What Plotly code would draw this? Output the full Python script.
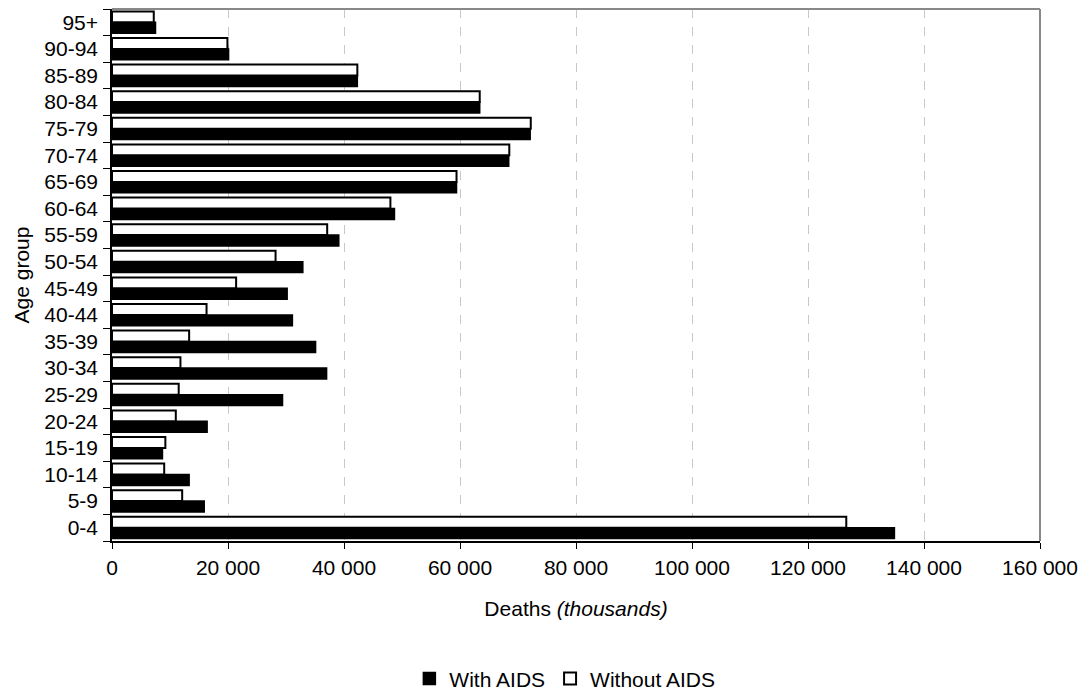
import plotly.graph_objects as go

age_groups = ["0-4", "5-9", "10-14", "15-19", "20-24", "25-29", "30-34", "35-39",
              "40-44", "45-49", "50-54", "55-59", "60-64", "65-69", "70-74",
              "75-79", "80-84", "85-89", "90-94", "95+"]
with_aids = [134900, 15900, 13300, 8700, 16400, 29400, 37000, 35100,
             31100, 30200, 32900, 39100, 48700, 59400, 68400,
             72100, 63400, 42300, 20100, 7500]
without_aids = [126600, 12100, 9000, 9200, 11000, 11500, 11800, 13300,
                16300, 21400, 28200, 37100, 48000, 59400, 68500,
                72200, 63400, 42300, 19900, 7200]
tick_vals = [0, 20000, 40000, 60000, 80000, 100000, 120000, 140000, 160000]
tick_text = ["0", "20 000", "40 000", "60 000", "80 000", "100 000",
             "120 000", "140 000", "160 000"]

font_family = "Liberation Sans, Arial, sans-serif"
fs = 21

fig = go.Figure()
fig.add_trace(go.Bar(
    y=age_groups, x=with_aids, orientation="h", name="With AIDS",
    marker=dict(color="black", line=dict(color="black", width=1.5)),
))
fig.add_trace(go.Bar(
    y=age_groups, x=without_aids, orientation="h", name="Without AIDS",
    marker=dict(color="white", line=dict(color="black", width=2)),
))

fig.update_layout(
    width=1078, height=686,
    margin=dict(l=104, r=46, t=1, b=153),
    paper_bgcolor="white", plot_bgcolor="white",
    barmode="group", bargap=0.18, bargroupgap=0.0,
    font=dict(family=font_family, size=fs, color="black"),
    showlegend=True,
    legend=dict(orientation="h", x=0.488, xanchor="center",
                yref="container", y=0.022, yanchor="middle",
                font=dict(size=fs), itemwidth=30, traceorder="normal"),
    xaxis=dict(
        range=[0, 160000], tickvals=tick_vals, ticktext=tick_text,
        showgrid=True, gridcolor="#c8c8c8", griddash="dash", gridwidth=1,
        showline=True, linecolor="black", linewidth=1.5,
        ticks="outside", ticklen=6, tickcolor="black",
        zeroline=False, automargin=False, ticklabelstandoff=1,
        tickfont=dict(size=fs),
        title=dict(text="Deaths <i>(thousands)</i>", font=dict(size=fs), standoff=23),
    ),
    yaxis=dict(
        type="category", categoryorder="array", categoryarray=age_groups,
        range=[-0.5, len(age_groups) - 0.5],
        showline=True, linecolor="black", linewidth=1.5,
        ticks="outside", ticklen=7, tickcolor="black", tickson="boundaries",
        showgrid=False, automargin=False, ticklabelstandoff=8,
        tickfont=dict(size=fs),
        title=dict(text="Age group", font=dict(size=fs), standoff=9),
    ),
)

# grey top and right border of the plot area
fig.add_shape(type="line", xref="x domain", yref="y domain", x0=0, x1=1, y0=1, y1=1,
              line=dict(color="#888888", width=2))
fig.add_shape(type="line", xref="x domain", yref="y domain", x0=1, x1=1, y0=0, y1=1,
              line=dict(color="#888888", width=2))

fig.write_html("out.html")
